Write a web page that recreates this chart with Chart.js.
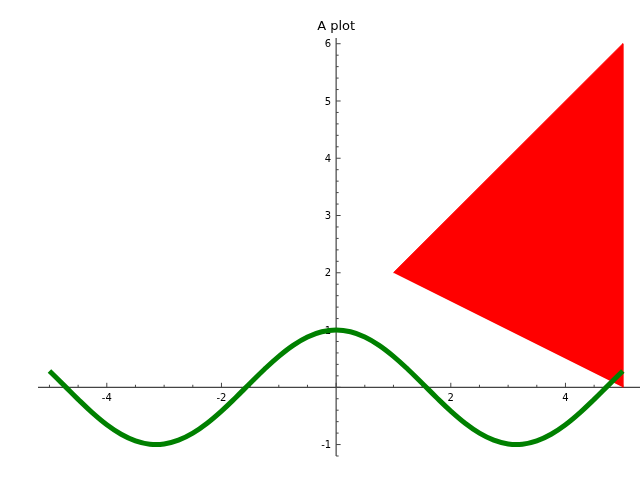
<!DOCTYPE html>
<html>
<head>
<meta charset="utf-8">
<script src="https://cdn.jsdelivr.net/npm/chart.js@4/dist/chart.umd.min.js"></script>
<style>
  body { margin: 0; background: #fff; }
</style>
</head>
<body>
<canvas id="chart" width="640" height="480"></canvas>
<script>
'use strict';

// cosine curve
const curveX = [-5, -4.75, -4.5, -4.25, -4, -3.75, -3.5, -3.25, -3, -2.75, -2.5, -2.25, -2, -1.75, -1.5, -1.25, -1, -0.75, -0.5, -0.25,
  0, 0.25, 0.5, 0.75, 1, 1.25, 1.5, 1.75, 2, 2.25, 2.5, 2.75, 3, 3.25, 3.5, 3.75, 4, 4.25, 4.5, 4.75, 5];
const curveY = [0.284, 0.038, -0.211, -0.446, -0.654, -0.820, -0.936, -0.994, -0.990, -0.924, -0.801, -0.628, -0.416, -0.178, 0.071, 0.315, 0.540, 0.732, 0.878, 0.969,
  1, 0.969, 0.878, 0.732, 0.540, 0.315, 0.071, -0.178, -0.416, -0.628, -0.801, -0.924, -0.990, -0.994, -0.936, -0.820, -0.654, -0.446, -0.211, 0.038, 0.284];

// red triangle corners
const triX = [1, 5, 5];
const triY = [2, 6, 0];

const xTickLabels = [-4, -2, 2, 4];
const yTickLabels = [-1, 1, 2, 3, 4, 5, 6];

let curvePoints = [];
for (let i = 0; i < curveX.length; i++) {
    curvePoints.push({x: curveX[i], y: curveY[i]});
}
let triPoints = [];
for (let i = 0; i < triX.length; i++) {
    triPoints.push({x: triX[i], y: triY[i]});
}

// axes through the origin, drawn under the data
const crossAxes = {
    id: 'crossAxes',
    beforeDatasetsDraw(chart) {
        const ctx = chart.ctx;
        const xs = chart.scales.x;
        const ys = chart.scales.y;
        const x0 = xs.getPixelForValue(0);
        const y0 = ys.getPixelForValue(0);

        ctx.save();
        ctx.strokeStyle = '#444';
        ctx.lineWidth = 1.2;
        ctx.beginPath();
        ctx.moveTo(xs.left, y0);
        ctx.lineTo(xs.right, y0);
        ctx.moveTo(x0, ys.top);
        ctx.lineTo(x0, ys.bottom);
        ctx.stroke();

        // minor + major ticks on x (pointing up)
        ctx.lineWidth = 1;
        ctx.beginPath();
        for (let v = -5; v <= 5.001; v += 0.5) {
            const px = xs.getPixelForValue(v);
            const len = Math.abs(v % 2) < 0.01 ? 4.5 : 2.5;
            ctx.moveTo(px, y0);
            ctx.lineTo(px, y0 - len);
        }
        // ticks on y (pointing right)
        for (let v = -1.2; v <= 6.001; v += 0.2) {
            const py = ys.getPixelForValue(v);
            const major = Math.abs(v - Math.round(v)) < 0.01;
            ctx.moveTo(x0, py);
            ctx.lineTo(x0 + (major ? 4.5 : 2.5), py);
        }
        ctx.stroke();

        ctx.fillStyle = '#000';
        ctx.font = '10px "DejaVu Sans"';
        ctx.textAlign = 'center';
        ctx.textBaseline = 'middle';
        xTickLabels.forEach(v => {
            ctx.fillText(String(v), xs.getPixelForValue(v), y0 + 11);
        });
        ctx.textAlign = 'right';
        yTickLabels.forEach(v => {
            ctx.fillText(String(v), x0 - 5, ys.getPixelForValue(v) + 1);
        });

        ctx.font = '13px "DejaVu Sans"';
        ctx.textAlign = 'center';
        ctx.textBaseline = 'alphabetic';
        ctx.fillText('A plot', x0, 30);
        ctx.restore();
    }
};

const data = {
    datasets: [{
        label: 'cos',
        data: curvePoints,
        showLine: true,
        borderColor: '#008000',
        borderWidth: 5,
        borderCapStyle: 'butt',
        tension: 0.4,
        pointRadius: 0,
        fill: false,
        order: 0
    },
    {
        label: 'triangle',
        data: triPoints,
        showLine: true,
        borderColor: '#ff0000',
        borderWidth: 1,
        backgroundColor: '#ff0000',
        pointRadius: 0,
        fill: 'shape',
        order: 1
    }]
};

const config = {
    type: 'scatter',
    data: data,
    options: {
        responsive: false,
        animation: false,
        layout: {
            padding: {left: 38, right: 0, top: 38, bottom: 24}
        },
        plugins: {
            legend: {display: false},
            tooltip: {enabled: false},
            title: {display: false}
        },
        scales: {
            x: {type: 'linear', min: -5.2, max: 5.3, display: false},
            y: {type: 'linear', min: -1.2, max: 6.1, display: false}
        }
    },
    plugins: [crossAxes]
};

const myGraph = new Chart(document.getElementById('chart'), config);
</script>
</body>
</html>
